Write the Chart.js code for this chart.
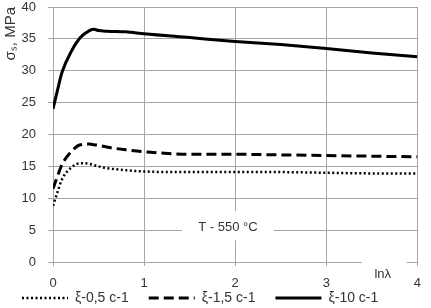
<!DOCTYPE html>
<html>
<head>
<meta charset="utf-8">
<script src="https://cdn.jsdelivr.net/npm/chart.js@4"></script>
<style>
  html, body { margin: 0; padding: 0; background: #fff; }
  #wrap { width: 431px; height: 308px; }
</style>
</head>
<body>
<div id="wrap"><canvas id="chart" width="431" height="308"></canvas></div>
<script>
// ── DATA ──────────────────────────────────────────────────────
const lnLambda = [0, 0.05, 0.1, 0.2, 0.3, 0.4, 0.45, 0.5, 0.6, 0.8, 1, 1.5, 2, 2.5, 3, 3.5, 4];
const stress05 = [8.8, 11, 13, 14.8, 15.5, 15.4, 15.2, 15, 14.7, 14.4, 14.2, 14.1, 14.1, 14.1, 14.0, 13.9, 13.9];
const stress15 = [11.5, 13.5, 15.3, 17.3, 18.4, 18.5, 18.4, 18.3, 18, 17.6, 17.3, 16.9, 16.9, 16.8, 16.7, 16.6, 16.5];
const stress10 = [24, 27, 29.8, 33, 35.2, 36.3, 36.5, 36.3, 36.2, 36.1, 35.8, 35.2, 34.6, 34.1, 33.5, 32.8, 32.2];
const seriesNames = ['ξ-0,5 c-1', 'ξ-1,5 c-1', 'ξ-10 c-1'];

const FONT = 'Liberation Sans, Arial, sans-serif';
const GRID = '#a6a6a6';
const TEXT = '#333';
const LEG_PAD = 20;

const toPts = vals => lnLambda.map((x, i) => ({ x, y: vals[i] }));

// ── LEGEND / ANNOTATIONS ──────────────────────────────────────
const notes = {
  id: 'notes',
  beforeLayout(chart) {
    // keep the legend band thin so the plot keeps its height
    const lg = chart.legend;
    if (lg && !lg._thin) {
      const fit = lg.fit;
      lg.fit = function () { fit.call(this); this.height = 20; };
      lg._thin = true;
    }
  },
  afterLayout(chart) {
    const lg = chart.legend;
    lg.top = 298 - LEG_PAD - 7;
    lg.bottom = chart.height;
  },
  afterDatasetsDraw(chart) {
    const { ctx, scales: { x, y } } = chart;
    ctx.save();
    ctx.font = '13px ' + FONT;
    ctx.textAlign = 'center';
    ctx.textBaseline = 'middle';

    // T label on the 5 MPa line
    const tx = x.getPixelForValue(1.92), ty = y.getPixelForValue(5);
    ctx.fillStyle = '#fff';
    ctx.fillRect(tx - 46, ty - 19, 92, 29);
    ctx.fillStyle = TEXT;
    ctx.fillText('T - 550 °C', tx, ty - 3);

    // axis name
    const lx = x.getPixelForValue(3.62), ly = y.getPixelForValue(0);
    ctx.fillStyle = '#fff';
    ctx.fillRect(lx - 21, ly - 5, 45, 24);
    ctx.fillStyle = TEXT;
    ctx.fillText('lnλ', lx, ly + 12);
    ctx.restore();
  }
};

const ds = (label, vals, width, dash) => ({
  label,
  data: toPts(vals),
  borderColor: '#000',
  backgroundColor: 'transparent',
  borderWidth: width,
  borderDash: dash,
  pointRadius: 0,
  cubicInterpolationMode: 'monotone',
});

new Chart(document.getElementById('chart'), {
  type: 'line',
  data: {
    datasets: [
      ds(seriesNames[0], stress05, 2.5, [2, 2.5]),
      ds(seriesNames[1], stress15, 3, [10, 5]),
      ds(seriesNames[2], stress10, 3, []),
    ]
  },
  options: {
    responsive: false,
    animation: false,
    layout: { padding: { left: 2, right: 6, top: 7, bottom: 0 } },
    plugins: {
      tooltip: { enabled: false },
      legend: {
        position: 'bottom',
        align: 'start',
        labels: {
          color: TEXT,
          font: { family: FONT, size: 14 },
          usePointStyle: true,
          pointStyle: 'line',
          pointStyleWidth: 46,
          padding: LEG_PAD,
          generateLabels(chart) {
            return Chart.defaults.plugins.legend.labels.generateLabels(chart).map(it => {
              const d = chart.data.datasets[it.datasetIndex];
              return { ...it, lineDash: d.borderDash, lineWidth: d.borderWidth, strokeStyle: d.borderColor };
            });
          }
        }
      }
    },
    scales: {
      x: {
        type: 'linear',
        min: 0, max: 4,
        ticks: { stepSize: 1, color: TEXT, font: { family: FONT, size: 13 }, padding: 10, maxRotation: 0 },
        grid: { color: GRID, tickLength: 4 },
        border: { color: GRID },
        afterFit: s => { s.height = 26; }
      },
      y: {
        min: 0, max: 40,
        ticks: { stepSize: 5, color: TEXT, font: { family: FONT, size: 13 }, padding: 12 },
        grid: { color: GRID, tickLength: 5 },
        border: { color: GRID },
        title: {
          display: true, text: 'σₛ, MPa', align: 'end',
          color: TEXT, font: { family: FONT, size: 15 }, padding: { top: 0, bottom: 0 }
        },
        afterFit: s => { s.width = 51; s.paddingTop = 7; s.paddingBottom = 7; }
      }
    }
  },
  plugins: [notes]
});
</script>
</body>
</html>
